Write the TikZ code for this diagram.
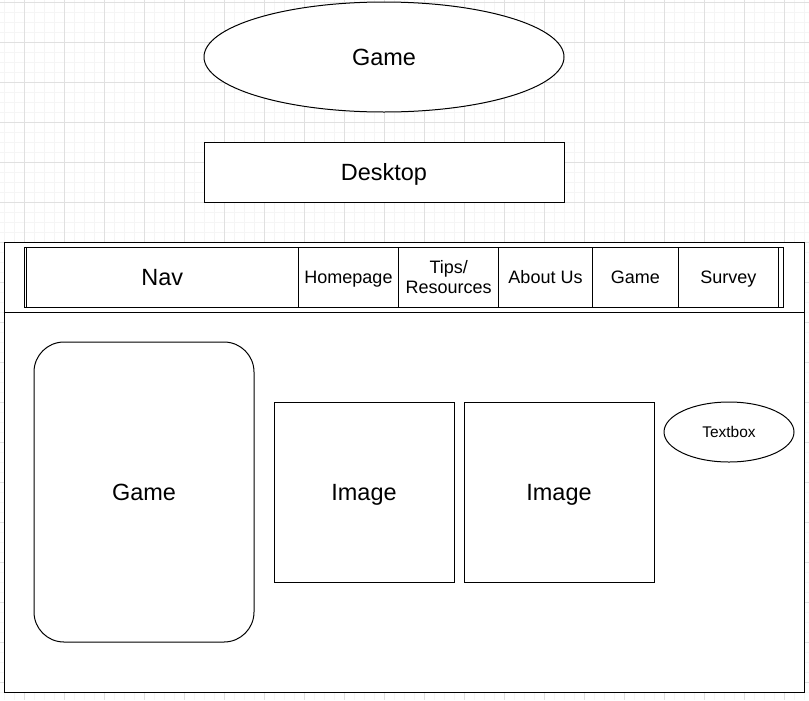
\documentclass[tikz,border=0pt]{standalone}
\usepackage{fontspec}
\setmainfont{Liberation Sans}
\usetikzlibrary{shapes.geometric}
\begin{document}
\begin{tikzpicture}[x=0.75pt,y=-0.75pt,
  ln/.style={line width=0.75pt},
  box/.style={draw, ln, fill=white, inner sep=0pt, anchor=center},
  oval/.style={box, ellipse},
  big/.style={font=\fontsize{17.6}{21}\selectfont, text height=14.3pt, text depth=2.2pt},
  navf/.style={font=\fontsize{13.5}{16.5}\selectfont},
  navt/.style={text height=11.3pt, text depth=1.35pt},
  smallf/.style={font=\fontsize{11.6}{14}\selectfont, text height=9.9pt, text depth=0.95pt},
  cell/.style={box, minimum height=45pt, navf},
  minorgrid/.style={draw=black!4, line width=0.75pt},
  majorgrid/.style={draw=black!12, line width=0.75pt}]
\useasboundingbox (0,0) rectangle (809,700);
\begin{scope}
\clip (0,0) rectangle (809,700);
\foreach \k in {0,...,80} \draw[minorgrid] (4.3+10*\k,0) -- (4.3+10*\k,700);
\foreach \k in {0,...,69} \draw[minorgrid] (0,2.3+10*\k) -- (809,2.3+10*\k);
\foreach \k in {0,...,20} \draw[majorgrid] (24.3+40*\k,0) -- (24.3+40*\k,700);
\foreach \k in {0,...,17} \draw[majorgrid] (0,2.3+40*\k) -- (809,2.3+40*\k);
\end{scope}

\node[oval, minimum width=270pt, minimum height=82.5pt, big] (topgame) at (384,57) {Game};
\node[box, minimum width=270pt, minimum height=45pt, big] (desktop) at (384,172) {Desktop};

\node[box, minimum width=600pt, minimum height=337.5pt] (page) at (404,467) {};
\draw[ln] (page.west |- 0,312) -- (page.east |- 0,312);

\node[box, minimum width=569.75pt, minimum height=45pt] (navbar) at (404.15,277) {};
\node[cell, minimum width=204pt, big] (nav) at (162.3,277) {Nav};
\node[cell, minimum width=75.3pt, navt] (home) at (348.5,277) {Homepage};
\node[cell, minimum width=75pt, align=center] (tips) at (448.7,277) {Tips/\\[-1.5pt]Resources};
\node[cell, minimum width=70.2pt, navt] (about) at (545.5,277) {About Us};
\node[cell, minimum width=64.5pt, navt] (gamenav) at (635.3,277) {Game};
\node[cell, minimum width=75pt, navt] (survey) at (728.3,277) {Survey};

\node[box, rounded corners=22.5pt, minimum width=165pt, minimum height=225pt, big] (game) at (144,492) {Game};
\node[box, minimum width=135pt, minimum height=135pt, big] (img1) at (364,492) {Image};
\node[box, minimum width=142.5pt, minimum height=135pt, big] (img2) at (559,492) {Image};
\node[oval, minimum width=97.5pt, minimum height=45pt, smallf] (textbox) at (729,432) {Textbox};
\end{tikzpicture}
\end{document}
